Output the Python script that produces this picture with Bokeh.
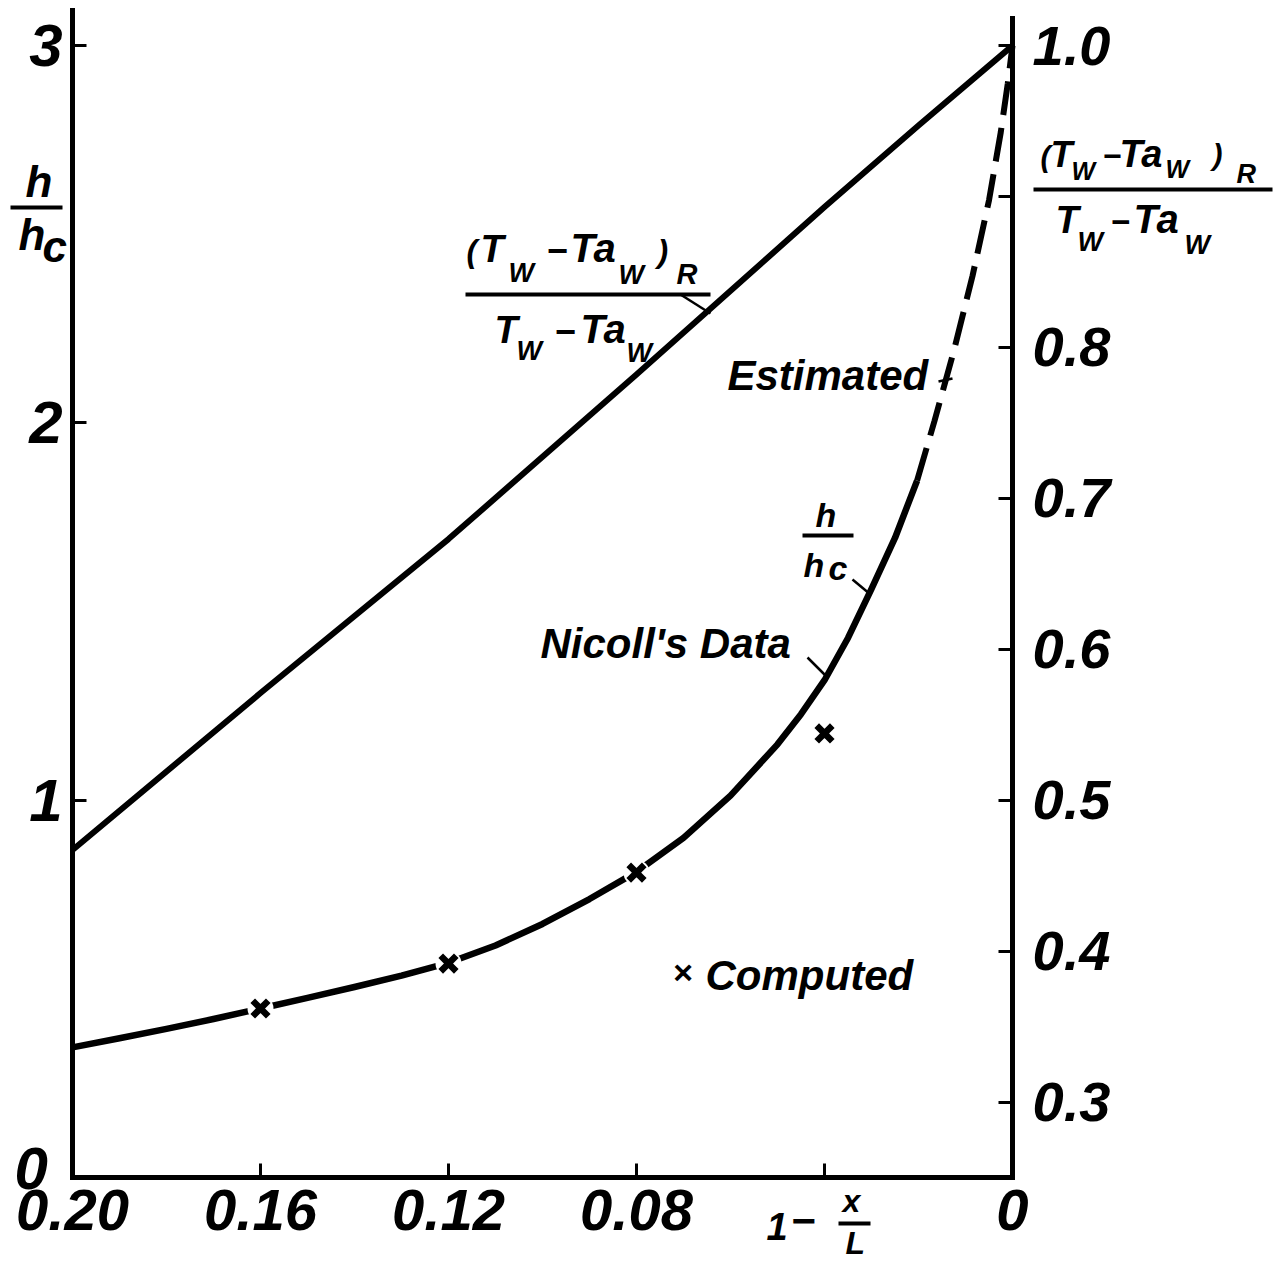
from bokeh.plotting import figure
from bokeh.models import Range1d, LinearAxis, FixedTicker, Label, Arrow
from bokeh.embed import file_html
from bokeh.resources import INLINE

# ---------------- data ----------------
# abscissa: 1 - x/L (reversed axis, 0.20 on the left, 0 on the right)
t_x = [0.20, 0.16, 0.12, 0.08, 0.04, 0.02, 0.0]
# (Tw - Taw)_R / (Tw - Taw)  -> right axis
t_ratio = [0.467, 0.571, 0.673, 0.782, 0.893, 0.947, 1.0]

# h/hc, Nicoll's data (solid part) -> left axis
h_x_solid = [0.200, 0.190, 0.180, 0.170, 0.160, 0.150, 0.140, 0.130, 0.120,
             0.110, 0.100, 0.090, 0.080, 0.070, 0.060, 0.050, 0.045, 0.040,
             0.035, 0.030, 0.025, 0.0203]
h_solid = [0.345, 0.369, 0.394, 0.420, 0.448, 0.476, 0.505, 0.535, 0.569,
           0.615, 0.672, 0.738, 0.810, 0.900, 1.012, 1.148, 1.228, 1.318,
           1.430, 1.560, 1.695, 1.847]
# h/hc, estimated (dashed part)
h_x_est = [0.0203, 0.0166, 0.0125, 0.0085, 0.0050, 0.0025, 0.0010, 0.0]
h_est = [1.847, 2.005, 2.190, 2.390, 2.590, 2.770, 2.900, 3.0]

# computed points
comp_x = [0.16, 0.12, 0.08, 0.04]
comp_h = [0.448, 0.567, 0.808, 1.177]

x_ticks = [0.20, 0.16, 0.12, 0.08, 0.04, 0.0]
x_tick_labels = ["0.20", "0.16", "0.12", "0.08", "", "0"]
left_ticks = [0, 1, 2, 3]
left_tick_labels = ["", "1", "2", "3"]
right_ticks = [0.3, 0.4, 0.5, 0.6, 0.7, 0.8, 0.9, 1.0]
right_tick_labels = ["0.3", "0.4", "0.5", "0.6", "0.7", "0.8", "", "1.0"]

# ---------------- geometry (canvas pixels of the reference) ----------------
W, H = 1276, 1262
FL, FR = 72, 1012          # pixel of x = 0.20 and x = 0
FB, PX_PER_UNIT = 1177, 377.3   # pixel of h/hc = 0, pixels per unit of h/hc
FONT = "Liberation Sans"


def dx(px):
    return 0.20 * (FR - px) / (FR - FL)


def dy(py):
    return (FB - py) / PX_PER_UNIT


def to_right(v):
    return 0.25 + v / 4.0


p = figure(width=W, height=H,
           x_range=Range1d(dx(0), dx(W)), y_range=Range1d(dy(H), dy(0)),
           output_backend="svg", toolbar_location=None,
           x_axis_location=None, y_axis_location=None,
           min_border=0)
p.extra_y_ranges = {"r": Range1d(to_right(dy(H)), to_right(dy(0)))}
p.grid.visible = False
p.outline_line_color = None
p.background_fill_color = "white"
p.border_fill_color = "white"


def style_axis(ax, size, standoff):
    ax.axis_line_width = 5
    ax.axis_line_cap = "square"
    ax.axis_line_color = "black"
    ax.major_tick_line_width = 3
    ax.major_tick_line_color = "black"
    ax.major_tick_in = 14
    ax.major_tick_out = 0
    ax.minor_tick_line_color = None
    ax.major_label_text_font = FONT
    ax.major_label_text_font_style = "bold italic"
    ax.major_label_text_font_size = size
    ax.major_label_text_color = "black"
    ax.major_label_standoff = standoff


xb = LinearAxis(fixed_location=0, bounds=(0.0, 0.20),
                ticker=FixedTicker(ticks=x_ticks, minor_ticks=[]),
                major_label_overrides=dict(zip(x_ticks, x_tick_labels)))
style_axis(xb, "58px", 12)
p.add_layout(xb, "below")

yl = LinearAxis(fixed_location=0.20, bounds=(0, dy(10)),
                ticker=FixedTicker(ticks=left_ticks, minor_ticks=[]),
                major_label_overrides=dict(zip(left_ticks, left_tick_labels)))
style_axis(yl, "60px", 10)
p.add_layout(yl, "left")

yr = LinearAxis(y_range_name="r", fixed_location=0.0,
                bounds=(0.25, to_right(dy(18))),
                ticker=FixedTicker(ticks=right_ticks, minor_ticks=[]),
                major_label_overrides=dict(zip(right_ticks, right_tick_labels)))
style_axis(yr, "56px", 20)
p.add_layout(yr, "right")

# ---------------- curves ----------------
p.line(t_x, t_ratio, y_range_name="r", line_width=6, line_color="black",
       line_join="round")
p.line(h_x_solid, h_solid, line_width=6.5, line_color="black",
       line_join="round")
p.line(h_x_est, h_est, line_width=6, line_color="black", line_dash="34 13")
p.scatter(comp_x, comp_h, marker="circle", size=26, fill_color="white",
          line_color=None)
p.scatter(comp_x, comp_h, marker="x", size=22, line_width=6.5,
          line_color="black")


# ---------------- annotations ----------------
def txt(px, py, text, size, style="bold italic"):
    # py is the intended baseline; the label is centred on the glyph middle
    p.add_layout(Label(x=dx(px), y=dy(py - 0.36 * size), text=text,
                       text_font=FONT, text_font_size=f"{size}px",
                       text_font_style=style, text_baseline="middle",
                       text_align="left", text_color="black"))


def seg(x1, y1, x2, y2, w=4):
    p.add_layout(Arrow(start=None, end=None, x_start=dx(x1), y_start=dy(y1),
                       x_end=dx(x2), y_end=dy(y2), line_width=w,
                       line_color="black"))


# "0" of the left axis (drawn a bit above the corner, as in the reference)
txt(14, 1190, "0", 60)

# left axis title h/hc
txt(25, 197, "h", 44)
seg(10, 207, 62, 207, 4)
txt(18, 250, "h", 44)
txt(42, 262, "c", 44)

# right axis title (Tw - Taw)_R / (Tw - Taw)
txt(1040, 167, "(", 30)
txt(1050, 167, "T", 36)
txt(1071, 179, "W", 25)
txt(1102, 167, "\u2212", 32)
txt(1119, 167, "Ta", 38)
txt(1165, 177, "W", 25)
txt(1212, 165, ")", 30)
txt(1236, 183, "R", 27)
seg(1033, 189, 1272, 189, 4)
txt(1055, 233, "T", 38)
txt(1077, 251, "W", 27)
txt(1110, 233, "\u2212", 33)
txt(1133, 233, "Ta", 40)
txt(1184, 254, "W", 27)

# middle label for the upper line
txt(466, 262, "(", 32)
txt(480, 262, "T", 38)
txt(508, 282, "W", 27)
txt(546, 262, "\u2212", 36)
txt(570, 262, "Ta", 40)
txt(618, 284, "W", 27)
txt(657, 262, ")", 32)
txt(676, 284, "R", 29)
seg(465, 294, 710, 294, 4)
seg(680, 294, 710, 313, 2.5)
txt(494, 343, "T", 38)
txt(516, 360, "W", 27)
txt(554, 343, "\u2212", 36)
txt(580, 343, "Ta", 40)
txt(626, 362, "W", 27)

# Estimated
txt(727, 390, "Estimated", 42)
seg(938, 381, 952, 378, 2.5)

# h/hc near the curve
txt(815, 527, "h", 34)
seg(802, 535, 853, 535, 4)
txt(803, 577, "h", 34)
txt(828, 580, "c", 34)
seg(852, 579, 870, 594, 2.5)

# Nicoll's Data
txt(540, 658, "Nicoll's Data", 42)
seg(807, 657, 826, 676, 2.5)

# Computed legend
txt(672, 984, "\u00d7", 34)
txt(705, 990, "Computed", 42)

# abscissa title 1 - x/L
txt(766, 1240, "1", 38)
txt(790, 1235, "\u2212", 42)
txt(842, 1212, "x", 32)
seg(838, 1223, 870, 1223, 4)
txt(845, 1254, "L", 32)

open("out.html", "w").write(file_html(p, INLINE))
